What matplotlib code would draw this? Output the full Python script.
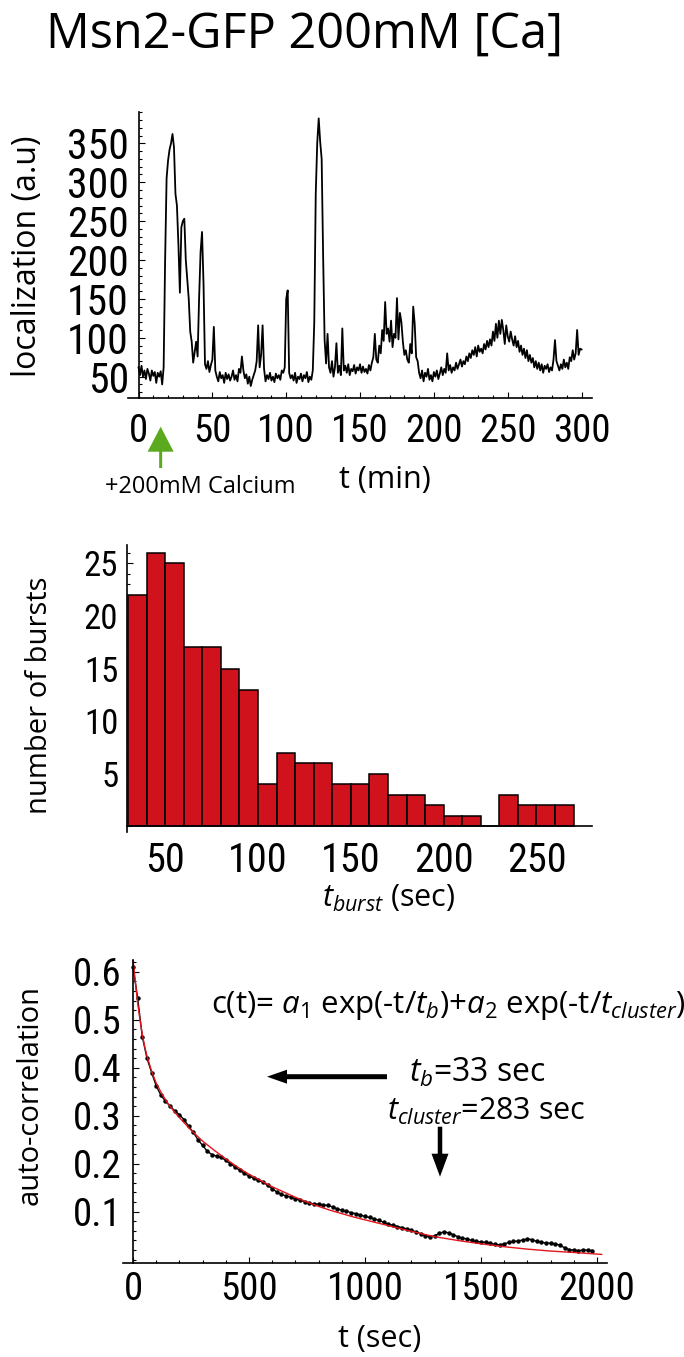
import matplotlib
matplotlib.use("Agg")
import matplotlib.pyplot as plt
import numpy as np
from matplotlib.ticker import MultipleLocator, FixedLocator, FormatStrFormatter
from matplotlib.patches import FancyArrow
from matplotlib.transforms import IdentityTransform

# ---------------- data ----------------
# nuclear localization trace, one sample per minute (t = 0 ... 300 min)
localization = [
    62, 52, 64, 50, 58, 47, 60, 54, 45, 58,
    51, 56, 42, 55, 50, 57, 40, 62, 200, 305,
    328, 342, 350, 362, 345, 285, 270, 220, 158, 242,
    250, 253, 200, 175, 150, 108, 95, 68, 82, 95,
    76, 150, 210, 236, 170, 66, 60, 70, 56, 65,
    72, 114, 58, 50, 44, 56, 48, 52, 42, 55,
    47, 53, 45, 50, 58, 46, 52, 44, 60, 55,
    76, 58, 48, 53, 41, 50, 38, 46, 52, 58,
    70, 116, 62, 78, 116, 60, 44, 52, 47, 55,
    45, 50, 43, 54, 48, 52, 46, 58, 55, 62,
    150, 161, 55, 48, 52, 45, 55, 42, 50, 47,
    54, 44, 52, 48, 56, 43, 50, 46, 58, 120,
    285, 350, 382, 352, 330, 205, 97, 67, 105, 62,
    55, 70, 50, 62, 93, 55, 64, 52, 112, 58,
    64, 55, 66, 52, 60, 57, 65, 54, 62, 58,
    66, 55, 63, 56, 60, 54, 65, 58, 68, 75,
    105, 72, 68, 90, 80, 110, 96, 146, 105, 112,
    95, 122, 88, 105, 100, 151, 98, 132, 120, 95,
    78, 84, 72, 68, 92, 80, 140, 118, 75, 70,
    55, 48, 58, 44, 55, 50, 60, 46, 52, 44,
    56, 50, 58, 47, 54, 62, 52, 60, 55, 80,
    58, 65, 55, 62, 58, 68, 60, 66, 72, 63,
    70, 66, 76, 70, 80, 74, 84, 78, 88, 76,
    90, 82, 86, 80, 92, 85, 96, 88, 98, 90,
    108, 96, 118, 100, 122, 105, 123, 110, 92, 116,
    102, 95, 108, 98, 90, 102, 88, 96, 82, 90,
    78, 86, 74, 84, 70, 78, 68, 74, 62, 70,
    60, 68, 58, 66, 55, 64, 60, 66, 56, 62,
    58, 72, 97, 70, 64, 58, 66, 60, 72, 62,
    68, 60, 75, 70, 84, 72, 80, 110, 78, 86,
    85,
]
t_min = np.arange(len(localization))
calcium_time = 15  # min, time of calcium addition

# burst-duration histogram, 10 s bins starting at 30 s
bin_left = list(range(30, 270, 10))
burst_counts = [22, 26, 25, 17, 17, 15, 13, 4, 7, 6, 6, 4,
                4, 5, 3, 3, 2, 1, 1, 0, 3, 2, 2, 2]

# autocorrelation, sampled every 20 s
acf_t = np.arange(0, 2000, 20)
acf = [
    0.610, 0.545, 0.465, 0.420, 0.390, 0.362, 0.343, 0.330, 0.320, 0.310,
    0.302, 0.292, 0.278, 0.265, 0.250, 0.238, 0.226, 0.219, 0.216, 0.213,
    0.207, 0.200, 0.193, 0.186, 0.180, 0.174, 0.170, 0.165, 0.162, 0.155,
    0.148, 0.141, 0.136, 0.133, 0.130, 0.127, 0.124, 0.121, 0.118, 0.116,
    0.116, 0.114, 0.113, 0.110, 0.106, 0.103, 0.101, 0.098, 0.096, 0.093,
    0.090, 0.088, 0.085, 0.082, 0.078, 0.074, 0.072, 0.069, 0.067, 0.064,
    0.061, 0.058, 0.054, 0.050, 0.047, 0.050, 0.055, 0.058, 0.056, 0.052,
    0.048, 0.045, 0.043, 0.040, 0.038, 0.037, 0.036, 0.034, 0.032, 0.031,
    0.033, 0.036, 0.038, 0.039, 0.041, 0.043, 0.042, 0.038, 0.036, 0.035,
    0.034, 0.033, 0.030, 0.025, 0.021, 0.020, 0.019, 0.020, 0.020, 0.019,
]

# double-exponential fit curve
fit_t = [0, 10, 20, 30, 40, 50, 60, 80, 100, 125, 150, 175, 200, 250, 300,
         350, 400, 450, 500, 550, 600, 650, 700, 750, 800, 850, 900, 950,
         1000, 1100, 1200, 1300, 1400, 1500, 1600, 1700, 1800, 1900, 2020]
fit_c = [0.625, 0.580, 0.535, 0.500, 0.470, 0.445, 0.425, 0.393, 0.368,
         0.345, 0.326, 0.310, 0.296, 0.270, 0.247, 0.228, 0.210, 0.193,
         0.178, 0.165, 0.152, 0.141, 0.130, 0.120, 0.111, 0.103, 0.096,
         0.089, 0.083, 0.071, 0.059, 0.048, 0.040, 0.033, 0.027, 0.022,
         0.018, 0.015, 0.011]

# ---------------- style ----------------
W, H, DPI = 684, 1357, 100
plt.rcParams["font.family"] = ["Open Sans", "DejaVu Sans"]
plt.rcParams["mathtext.fontset"] = "custom"
plt.rcParams["mathtext.rm"] = "Open Sans"
plt.rcParams["mathtext.it"] = "Open Sans:italic"
TICK_FONT = ["Roboto Condensed", "Noto Sans Condensed", "Noto Sans SemiCondensed",
             "Liberation Sans Narrow", "Open Sans", "DejaVu Sans"]
BAR_RED = "#d0121c"

fig = plt.figure(figsize=(W / DPI, H / DPI), dpi=DPI)


def axes_px(x0, x1, y_top, y_bot):
    return fig.add_axes([x0 / W, 1 - y_bot / H, (x1 - x0) / W, (y_bot - y_top) / H])


def text_px(x, y, s, **kw):
    return fig.text(x / W, 1 - y / H, s, **kw)


def arrow_px(x0, y0, x1, y1, width, head_width, head_length, color):
    fig.add_artist(FancyArrow(x0, H - y0, x1 - x0, -(y1 - y0), width=width,
                              head_width=head_width, head_length=head_length,
                              length_includes_head=True, color=color, lw=0,
                              transform=IdentityTransform()))


def style_axes(ax, xsize, ysize, xpad, ypad):
    for s in ("top", "right"):
        ax.spines[s].set_visible(False)
    for s in ("left", "bottom"):
        ax.spines[s].set_linewidth(1.2)
    ax.tick_params(which="both", direction="in", width=0.8, color="black")
    ax.tick_params(which="major", length=4)
    ax.tick_params(which="minor", length=2.2)
    ax.tick_params(axis="x", labelsize=xsize, pad=xpad)
    ax.tick_params(axis="y", labelsize=ysize, pad=ypad)
    for lab in ax.get_xticklabels() + ax.get_yticklabels():
        lab.set_fontfamily(TICK_FONT)


# title
text_px(304, 48, "Msn2-GFP 200mM [Ca]", fontsize=35, ha="center", va="baseline")

# ---------------- localization trace ----------------
ax1 = axes_px(128.2, 591.9, 111.7, 398)
ax1.plot(t_min, localization, color="black", lw=1.3)
ax1.set_xlim(-7, 307)
ax1.set_ylim(22.6, 390.6)
ax1.spines["left"].set_position(("data", 0))
ax1.xaxis.set_major_locator(MultipleLocator(50))
ax1.xaxis.set_minor_locator(MultipleLocator(10))
ax1.yaxis.set_major_locator(FixedLocator([50, 100, 150, 200, 250, 300, 350]))
ax1.yaxis.set_minor_locator(MultipleLocator(10))
style_axes(ax1, 28, 30, 11, 7)

text_px(28, 256, "localization (a.u)", fontsize=23, rotation=90, ha="center", va="center")
text_px(385, 480, "t (min)", fontsize=22, ha="center", va="center")
text_px(200, 487, "+200mM Calcium", fontsize=17, ha="center", va="center")
arrow_px(138.5 + calcium_time * 1.477, 468, 138.5 + calcium_time * 1.477, 426.7,
         3, 26, 25, "#5aa91e")

# ---------------- burst histogram ----------------
ax2 = axes_px(126.7, 592, 545, 831.7)
ax2.bar(bin_left, burst_counts, width=10, align="edge", color=BAR_RED,
        edgecolor="black", lw=1.1)
ax2.set_axisbelow(True)
ax2.set_xlim(29.3, 279.9)
ax2.set_ylim(-0.54, 26.76)
ax2.spines["bottom"].set_position(("data", 0))
ax2.xaxis.set_major_locator(FixedLocator([50, 100, 150, 200, 250]))
ax2.yaxis.set_major_locator(FixedLocator([5, 10, 15, 20, 25]))
ax2.yaxis.set_minor_locator(MultipleLocator(1))
style_axes(ax2, 29, 25, 11, 6)
ax2.tick_params(axis="x", which="both", length=0)

text_px(40, 695, "number of bursts", fontsize=21, rotation=90, ha="center", va="center")
text_px(389, 898, r"$t_{burst}$ (sec)", fontsize=22, ha="center", va="center")

# ---------------- autocorrelation ----------------
ax3 = axes_px(122.7, 607, 960, 1263)
ax3.plot(acf_t, acf, "-", color="black", lw=1.0)
ax3.plot(acf_t, acf, "o", color="black", ms=3.2, mew=0)
ax3.plot(fit_t, fit_c, "-", color="#e3141c", lw=1.0)
ax3.set_xlim(-44.4, 2043)
ax3.set_ylim(-0.0069, 0.6244)
ax3.spines["left"].set_position(("data", 0))
ax3.xaxis.set_major_locator(MultipleLocator(500))
ax3.xaxis.set_minor_locator(MultipleLocator(100))
ax3.yaxis.set_major_locator(FixedLocator([0.1, 0.2, 0.3, 0.4, 0.5, 0.6]))
ax3.yaxis.set_minor_locator(MultipleLocator(0.02))
ax3.yaxis.set_major_formatter(FormatStrFormatter("%.1f"))
style_axes(ax3, 28, 28, 6, 8)

text_px(30, 1095, "auto-correlation", fontsize=21, rotation=90, ha="center", va="center")
text_px(380, 1339, "t (sec)", fontsize=22, ha="center", va="center")

text_px(686, 1005,
        r"c(t)= $a_{\mathit{1}}$ exp(-t/$t_{b}$)+$a_{\mathit{2}}$ exp(-t/$t_{cluster}$)",
        fontsize=22.5, ha="right", va="center")
text_px(409, 1073, r"$t_{b}$=33 sec", fontsize=23, ha="left", va="center")
text_px(387, 1111, r"$t_{cluster}$=283 sec", fontsize=22, ha="left", va="center")
arrow_px(387, 1076.7, 267, 1076.7, 5, 14, 20, "black")
arrow_px(440, 1126.7, 440, 1176.7, 4.5, 17, 23, "black")

fig.savefig("out.png", dpi=DPI, facecolor="white")
